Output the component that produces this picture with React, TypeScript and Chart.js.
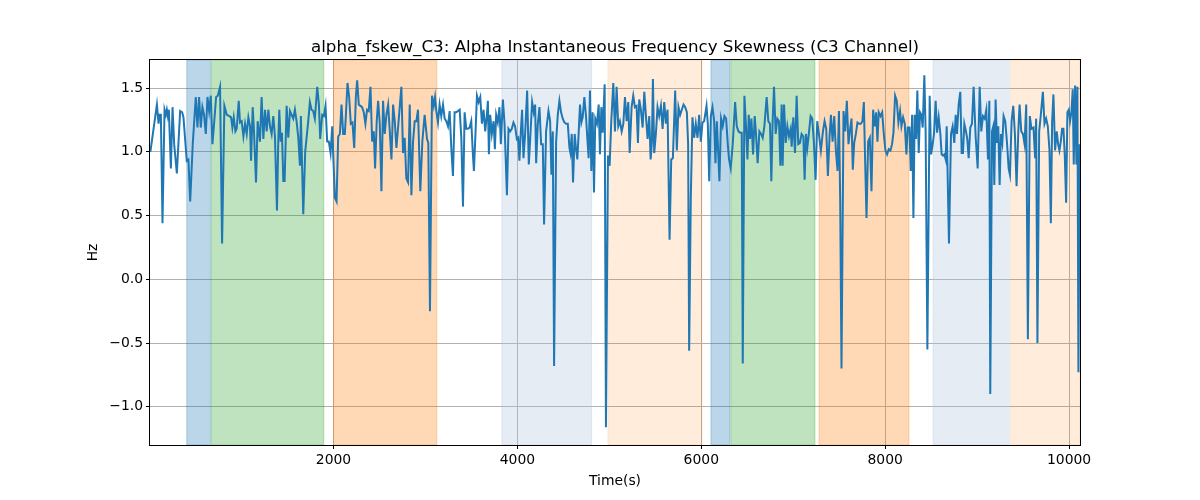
import { useEffect, useRef } from 'react';
import { Chart, registerables } from 'chart.js';

Chart.register(...registerables);

const TITLE = 'alpha_fskew_C3: Alpha Instantaneous Frequency Skewness (C3 Channel)';
const X_LABEL = 'Time(s)';
const Y_LABEL = 'Hz';

// time stamps (s)
const times = [
  8, 79, 97, 108, 122, 140, 162, 176, 187, 198,
  209, 231, 249, 267, 296, 332, 354, 368, 404, 422,
  441, 469, 502, 520, 538, 556, 574, 592, 611, 629,
  647, 665, 683, 701, 723, 741, 766, 788, 813, 839,
  868, 886, 900, 915, 933, 947, 969, 983, 1001, 1020,
  1038, 1056, 1074, 1092, 1103, 1121, 1135, 1157, 1175, 1200,
  1218, 1237, 1255, 1273, 1291, 1309, 1327, 1345, 1363, 1385,
  1399, 1410, 1425, 1439, 1454, 1468, 1490, 1508, 1526, 1544,
  1562, 1580, 1598, 1617, 1635, 1645, 1671, 1692, 1725, 1743,
  1761, 1779, 1797, 1823, 1841, 1855, 1877, 1895, 1913, 1931,
  1949, 1968, 1986, 1996, 2015, 2033, 2051, 2069, 2087, 2105,
  2123, 2134, 2152, 2170, 2188, 2206, 2225, 2243, 2257, 2275,
  2293, 2311, 2329, 2347, 2365, 2383, 2402, 2420, 2438, 2452,
  2470, 2485, 2503, 2521, 2539, 2557, 2575, 2594, 2612, 2630,
  2648, 2666, 2684, 2702, 2720, 2738, 2756, 2774, 2792, 2811,
  2829, 2847, 2865, 2883, 2901, 2919, 2944, 2966, 2991, 3017,
  3031, 3049, 3071, 3090, 3104, 3118, 3136, 3154, 3172, 3191,
  3209, 3227, 3245, 3263, 3281, 3299, 3317, 3335, 3353, 3372,
  3390, 3408, 3426, 3444, 3462, 3480, 3498, 3516, 3527, 3545,
  3560, 3578, 3596, 3614, 3632, 3650, 3668, 3679, 3690, 3704,
  3722, 3741, 3755, 3769, 3787, 3805, 3820, 3842, 3860, 3886,
  3903, 3921, 3939, 3957, 3975, 3994, 4008, 4022, 4033, 4051,
  4066, 4084, 4106, 4124, 4142, 4160, 4178, 4193, 4204, 4222,
  4240, 4258, 4276, 4290, 4312, 4338, 4356, 4370, 4385, 4399,
  4421, 4439, 4457, 4475, 4493, 4511, 4530, 4548, 4566, 4577,
  4591, 4605, 4623, 4638, 4652, 4667, 4681, 4696, 4710, 4728,
  4746, 4761, 4775, 4789, 4804, 4818, 4833, 4847, 4865, 4884,
  4898, 4913, 4927, 4949, 4963, 4985, 5003, 5021, 5043, 5061,
  5079, 5097, 5115, 5134, 5152, 5170, 5188, 5206, 5221, 5242,
  5260, 5278, 5296, 5311, 5325, 5343, 5362, 5380, 5398, 5416,
  5434, 5449, 5463, 5474, 5488, 5506, 5524, 5542, 5561, 5579,
  5597, 5615, 5633, 5655, 5673, 5691, 5716, 5734, 5752, 5770,
  5788, 5807, 5825, 5843, 5857, 5868, 5886, 5904, 5922, 5940,
  5959, 5977, 5995, 6013, 6031, 6057, 6071, 6086, 6104, 6122,
  6140, 6154, 6169, 6183, 6197, 6215, 6233, 6252, 6270, 6288,
  6302, 6320, 6342, 6368, 6386, 6404, 6422, 6440, 6451, 6469,
  6487, 6502, 6516, 6530, 6545, 6563, 6581, 6595, 6613, 6632,
  6650, 6668, 6686, 6711, 6729, 6747, 6762, 6776, 6791, 6809,
  6827, 6845, 6860, 6874, 6885, 6900, 6918, 6936, 6954, 6972,
  6983, 7001, 7019, 7037, 7055, 7073, 7091, 7110, 7124, 7138,
  7153, 7171, 7189, 7207, 7225, 7243, 7261, 7279, 7301, 7323,
  7341, 7359, 7377, 7395, 7410, 7428, 7446, 7464, 7482, 7497,
  7511, 7525, 7547, 7565, 7583, 7601, 7619, 7634, 7648, 7663,
  7681, 7699, 7717, 7735, 7753, 7768, 7782, 7797, 7815, 7833,
  7851, 7869, 7887, 7902, 7916, 7930, 7949, 7967, 7985, 8003,
  8021, 8039, 8057, 8075, 8090, 8108, 8126, 8144, 8162, 8177,
  8195, 8213, 8231, 8245, 8264, 8278, 8293, 8307, 8321, 8336,
  8350, 8365, 8379, 8394, 8408, 8426, 8440, 8459, 8484, 8499,
  8517, 8531, 8549, 8564, 8582, 8600, 8614, 8629, 8643, 8658,
  8669, 8694, 8716, 8734, 8752, 8767, 8781, 8799, 8817, 8832,
  8846, 8861, 8879, 8893, 8908, 8926, 8944, 8962, 8984, 9006,
  9028, 9045, 9064, 9082, 9100, 9118, 9133, 9143, 9162, 9176,
  9187, 9201, 9216, 9230, 9245, 9259, 9274, 9288, 9306, 9324,
  9343, 9357, 9375, 9393, 9411, 9429, 9448, 9462, 9480, 9498,
  9516, 9534, 9552, 9573, 9591, 9613, 9631, 9642, 9656, 9675,
  9693, 9715, 9733, 9751, 9769, 9787, 9802, 9816, 9830, 9848,
  9866, 9881, 9895, 9910, 9924, 9939, 9953, 9968, 9982, 9997,
  10011, 10026, 10040, 10051, 10066, 10080, 10091, 10102, 10116,
];

// skewness (Hz)
const skew = [
  1.00, 1.37, 1.22, 1.29, 1.29, 0.44, 1.33, 1.29, 1.33, 1.28,
  1.33, 0.87, 1.35, 1.06, 0.83, 1.32, 1.31, 1.27, 0.93, 0.94,
  0.61, 1.06, 1.43, 1.19, 1.43, 1.19, 1.35, 1.29, 1.14, 1.43,
  1.32, 1.44, 1.06, 1.22, 1.43, 1.44, 1.51, 0.28, 1.36, 1.29,
  1.28, 1.27, 1.19, 1.27, 1.16, 1.18, 1.40, 1.23, 1.24, 1.12,
  1.22, 1.14, 1.27, 1.20, 0.93, 1.35, 1.16, 0.76, 1.24, 1.08,
  1.43, 1.10, 1.33, 1.16, 1.33, 1.20, 1.14, 1.28, 1.12, 0.54,
  1.08, 1.33, 1.08, 1.15, 0.77, 0.77, 1.36, 1.11, 1.32, 1.29,
  1.26, 1.33, 1.24, 1.11, 0.89, 1.28, 0.51, 1.00, 1.24, 1.39,
  1.33, 1.32, 1.26, 1.51, 1.37, 1.10, 1.29, 1.28, 1.36, 1.08,
  1.08, 0.99, 1.20, 0.99, 0.64, 0.61, 1.12, 1.14, 1.37, 1.14,
  1.14, 1.28, 1.54, 1.43, 1.22, 1.23, 1.03, 1.43, 1.56, 1.37,
  1.36, 1.35, 1.31, 1.22, 1.33, 1.32, 1.51, 1.08, 1.16, 0.87,
  1.24, 1.40, 1.22, 0.69, 1.40, 1.14, 1.29, 1.37, 1.16, 0.94,
  1.37, 1.24, 1.03, 1.19, 1.35, 1.51, 0.99, 1.11, 0.79, 0.76,
  1.37, 0.66, 1.08, 1.24, 1.24, 1.33, 0.69, 1.08, 1.29, 1.10,
  1.07, -0.25, 1.44, 1.36, 1.43, 1.32, 1.23, 1.37, 1.28, 1.37,
  1.26, 1.24, 1.20, 1.32, 1.03, 0.81, 1.31, 1.31, 1.32, 1.33,
  1.11, 0.57, 1.31, 1.18, 1.18, 1.19, 1.24, 0.98, 0.85, 1.16,
  1.44, 1.39, 1.43, 1.22, 1.33, 1.16, 1.29, 1.40, 0.98, 1.29,
  1.14, 1.24, 1.02, 1.29, 1.23, 1.35, 1.06, 1.41, 1.22, 0.66,
  1.18, 1.16, 1.18, 1.23, 1.20, 1.10, 1.11, 0.93, 1.10, 1.33,
  0.95, 1.14, 1.48, 0.90, 1.14, 1.39, 1.31, 1.37, 0.91, 1.22,
  1.35, 1.06, 1.06, 0.43, 1.16, 1.32, 1.24, 0.82, 1.16, -0.68,
  1.08, 1.29, 1.40, 1.31, 1.26, 1.23, 1.22, 1.22, 1.03, 0.99,
  1.14, 0.76, 1.14, 1.02, 0.94, 1.16, 1.37, 1.23, 1.27, 1.43,
  1.28, 1.10, 0.95, 1.48, 0.85, 1.31, 0.68, 1.26, 1.22, 1.37,
  0.98, 1.35, 1.15, 1.53, -1.16, 0.97, 0.89, 1.24, 1.54, 1.16,
  1.51, 1.20, 1.24, 1.16, 1.22, 1.43, 1.24, 1.39, 0.99, 1.35,
  1.44, 1.35, 1.36, 1.07, 1.41, 1.33, 1.19, 1.47, 1.28, 1.10,
  1.28, 0.94, 1.08, 1.57, 0.99, 1.14, 1.35, 1.28, 1.36, 1.18,
  1.39, 1.22, 1.33, 0.31, 0.94, 0.95, 1.48, 1.01, 1.35, 1.29,
  1.33, 1.37, 1.35, 1.31, 1.06, -0.56, 0.65, 1.27, 1.11, 1.22,
  1.11, 1.29, 1.08, 1.23, 1.24, 1.36, 1.22, 0.77, 1.28, 1.35,
  1.24, 0.91, 1.24, 1.01, 0.77, 1.26, 1.20, 1.28, 1.26, 1.06,
  0.94, 0.87, 1.06, 1.39, 1.20, 1.16, 1.15, 1.15, -0.66, 1.44,
  1.19, 0.94, 1.29, 1.10, 1.26, 0.98, 1.28, 1.14, 0.91, 1.16,
  1.14, 1.11, 1.20, 1.43, 1.24, 1.22, 0.77, 1.24, 1.51, 1.14,
  1.26, 1.24, 0.89, 1.37, 0.89, 1.37, 1.07, 1.20, 1.12, 1.18,
  1.04, 1.27, 0.99, 1.44, 1.06, 1.07, 1.14, 1.12, 0.78, 1.14,
  1.03, 1.15, 1.28, 1.26, 1.07, 0.78, 1.24, 1.14, 1.01, 1.16,
  1.24, 1.18, 0.81, 1.12, 1.29, 1.08, 1.28, 1.01, 0.85, 1.32,
  0.61, -0.70, 1.32, 1.16, 1.40, 1.06, 1.18, 1.26, 0.86, 1.07,
  1.14, 1.23, 1.22, 1.22, 1.24, 1.39, 0.93, 0.48, 1.08, 1.11,
  0.69, 1.33, 1.20, 1.31, 1.08, 1.31, 1.28, 1.31, 1.14, 1.01,
  0.98, 1.02, 1.01, 1.06, 1.15, 1.44, 1.40, 1.23, 1.32, 1.20,
  1.27, 1.22, 0.98, 1.19, 1.19, 0.85, 1.29, 0.48, 1.29, 1.10,
  1.48, 0.99, 1.31, 1.29, 1.19, 1.60, 1.16, -0.55, 1.44, 0.98,
  1.06, 1.14, 1.40, 1.15, 1.27, 1.14, 0.98, 0.97, 0.98, 0.94,
  1.20, 0.28, 1.14, 1.20, 1.07, 1.29, 1.14, 1.37, 1.47, 0.99,
  0.99, 1.22, 1.16, 1.10, 0.95, 1.19, 1.22, 1.51, 1.12, 0.87,
  1.51, 1.16, 1.28, 1.26, 1.33, 0.94, 1.40, -0.90, 1.16, 1.20,
  0.74, 1.41, 1.07, 1.20, 0.74, 1.14, 1.07, 1.28, 1.24, 1.08,
  0.87, 0.82, 1.24, 1.36, 1.14, 0.73, 1.16, 1.37, 1.16, 1.14,
  1.06, 1.37, -0.47, 1.28, 1.18, 1.19, 0.95, 1.26, -0.50, 1.16,
  1.29, 1.47, 1.22, 1.26, 1.20, 1.01, 0.44, 1.24, 1.45, 1.01,
  1.16, 1.06, 1.01, 1.08, 1.18, 1.18, 0.98, 0.60, 1.31, 1.33,
  1.24, 1.31, 1.49, 0.90, 1.52, 0.90, 1.51, -0.73, 1.06,
];

const xTicks = [2000, 4000, 6000, 8000, 10000];
const yTicks = [-1.0, -0.5, 0.0, 0.5, 1.0, 1.5];
const X_MIN = 4;
const X_MAX = 10119;
const Y_MIN = -1.30;
const Y_MAX = 1.72;

// shaded stages
const spanStarts = [404, 672, 2000, 3831, 4984, 6105, 6322, 7280, 8520, 9366];
const spanEnds = [661, 1894, 3124, 4807, 6007, 6312, 7236, 8259, 9350, 10119];
const spanColors = [
  'rgba(31,119,180,0.3)',
  'rgba(44,160,44,0.3)',
  'rgba(255,127,14,0.3)',
  'rgba(176,196,222,0.32)',
  'rgba(255,127,14,0.15)',
  'rgba(31,119,180,0.3)',
  'rgba(44,160,44,0.3)',
  'rgba(255,127,14,0.3)',
  'rgba(176,196,222,0.32)',
  'rgba(255,127,14,0.15)',
];

const FONT = '"DejaVu Sans", sans-serif';

const decorPlugin = {
  id: 'decor',
  beforeDatasetsDraw(chart: any) {
    const { ctx, chartArea, scales } = chart;
    ctx.save();
    ctx.beginPath();
    ctx.rect(chartArea.left, chartArea.top, chartArea.right - chartArea.left, chartArea.bottom - chartArea.top);
    ctx.clip();
    spanStarts.forEach((s, i) => {
      const x0 = scales.x.getPixelForValue(s);
      const x1 = scales.x.getPixelForValue(spanEnds[i]);
      ctx.fillStyle = spanColors[i];
      ctx.fillRect(x0, chartArea.top, x1 - x0, chartArea.bottom - chartArea.top);
      ctx.strokeStyle = spanColors[i];
      ctx.lineWidth = 1;
      ctx.strokeRect(x0, chartArea.top, x1 - x0, chartArea.bottom - chartArea.top);
    });
    ctx.restore();
  },
  afterDraw(chart: any) {
    const { ctx, chartArea } = chart;
    const { left, right, top, bottom } = chartArea;
    ctx.save();
    ctx.strokeStyle = '#000';
    ctx.lineWidth = 1;
    ctx.strokeRect(left - 0.5, top - 0.5, right - left + 1, bottom - top + 1);

    ctx.fillStyle = '#000';
    ctx.textAlign = 'center';
    ctx.font = `16.7px ${FONT}`;
    ctx.textBaseline = 'alphabetic';
    ctx.fillText(TITLE, (left + right) / 2, top - 8);

    ctx.font = `13.9px ${FONT}`;
    ctx.textBaseline = 'middle';
    ctx.fillText(X_LABEL, (left + right) / 2, 481);

    ctx.translate(93, (top + bottom) / 2);
    ctx.rotate(-Math.PI / 2);
    ctx.fillText(Y_LABEL, 0, 0);
    ctx.restore();
  },
};

export default function App() {
  const canvasRef = useRef<HTMLCanvasElement | null>(null);
  const chartRef = useRef<Chart | null>(null);

  useEffect(() => {
    if (!canvasRef.current) return;
    if (chartRef.current) chartRef.current.destroy();
    const ctx = canvasRef.current.getContext('2d');
    if (!ctx) return;

    chartRef.current = new Chart(ctx, {
      type: 'line',
      data: {
        datasets: [
          {
            data: times.map((t, i) => ({ x: t, y: skew[i] })),
            borderColor: '#1f77b4',
            borderWidth: 2,
            pointRadius: 0,
            tension: 0,
            fill: false,
          },
        ],
      },
      plugins: [decorPlugin],
      options: {
        animation: false,
        responsive: true,
        maintainAspectRatio: false,
        layout: { padding: { left: 90, right: 120, top: 60, bottom: 0 } },
        plugins: {
          legend: { display: false },
          title: { display: false },
          tooltip: { enabled: false },
        },
        scales: {
          x: {
            type: 'linear',
            min: X_MIN,
            max: X_MAX,
            afterBuildTicks: (scale: any) => {
              scale.ticks = xTicks.map((v) => ({ value: v }));
            },
            afterFit: (scale: any) => {
              scale.height = 55;
            },
            border: { display: false },
            grid: { color: '#b0b0b0', lineWidth: 1, tickColor: '#000', tickLength: 4, drawTicks: true },
            ticks: {
              color: '#000',
              padding: 3,
              maxRotation: 0,
              autoSkip: false,
              font: { family: FONT, size: 13.9 },
              callback: (v: any) => String(v),
            },
          },
          y: {
            type: 'linear',
            min: Y_MIN,
            max: Y_MAX,
            afterBuildTicks: (scale: any) => {
              scale.ticks = yTicks.map((v) => ({ value: v }));
            },
            afterFit: (scale: any) => {
              scale.width = 60;
            },
            border: { display: false },
            grid: { color: '#b0b0b0', lineWidth: 1, tickColor: '#000', tickLength: 4, drawTicks: true },
            ticks: {
              color: '#000',
              padding: 3,
              autoSkip: false,
              font: { family: FONT, size: 13.9 },
              callback: (v: any) => Number(v).toFixed(1).replace('-', '\u2212'),
            },
          },
        },
      },
    });

    return () => {
      if (chartRef.current) {
        chartRef.current.destroy();
        chartRef.current = null;
      }
    };
  }, []);

  return (
    <div style={{ position: 'absolute', left: 0, top: 0, width: 1200, height: 500, background: '#fff' }}>
      <canvas ref={canvasRef} />
    </div>
  );
}
